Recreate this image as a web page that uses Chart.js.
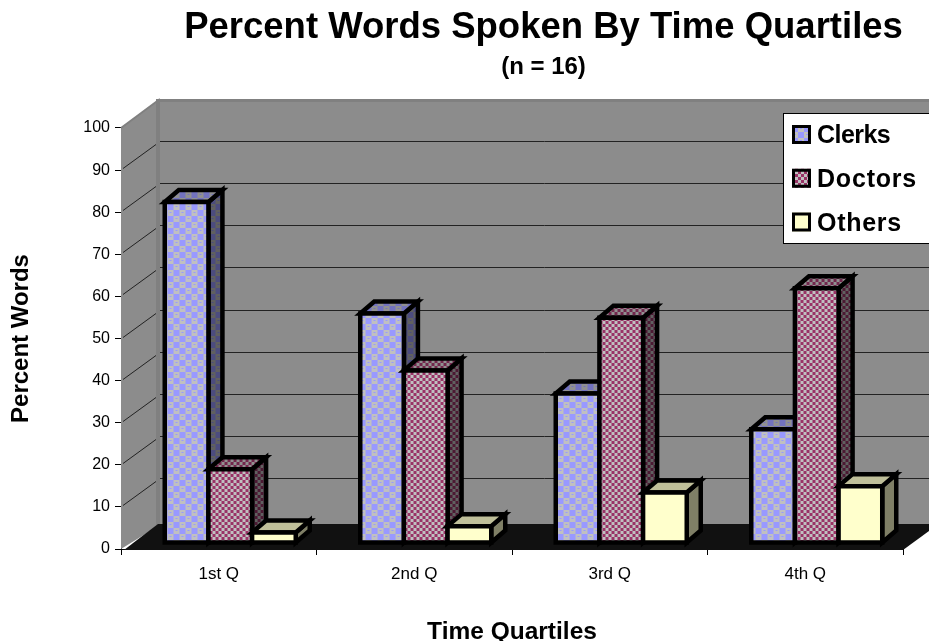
<!DOCTYPE html>
<html>
<head>
<meta charset="utf-8">
<title>Percent Words Spoken By Time Quartiles</title>
<style>
  html, body { margin: 0; padding: 0; background: #fff; }
  canvas { display: block; }
</style>
<script src="https://cdn.jsdelivr.net/npm/chart.js@4"></script>
</head>
<body>
<canvas id="quartiles" width="929" height="641"></canvas>
<script>
const quartiles = ['1st Q', '2nd Q', '3rd Q', '4th Q'];
const clerks = [81, 54.5, 35.5, 27];
const doctors = [17.5, 41, 53.5, 60.5];
const others = [2.5, 4, 12, 13.5];

const FONT = '"Liberation Sans", Arial, sans-serif';
const WALL = { dx: 39, dy: -29 };   // back wall offset from the axis plane
const SHIFT = { x: 11.5, y: -6 };   // bars stand part way back on the floor
const DEPTH = { x: 14, y: -12 };    // bar depth
const EDGE = 4.5;
const LEGEND_SPACING = [-0.55, 0.8, 0.7];

// checker tiles, darkened for the side and top faces
function tile(size, paint, dark) {
    const c = document.createElement('canvas');
    c.width = c.height = size;
    const g = c.getContext('2d');
    paint(g);
    if (dark) {
        g.fillStyle = 'rgba(0,0,0,' + dark + ')';
        g.fillRect(0, 0, size, size);
    }
    return g.createPattern(c, 'repeat');
}

function clerkPaint(g) {
    g.fillStyle = '#9999ff';
    g.fillRect(0, 0, 12, 12);
    g.fillStyle = '#c0c0c0';
    g.fillRect(0, 0, 6, 6);
    g.fillRect(6, 6, 6, 6);
    g.fillStyle = '#9999ff';
    g.fillRect(2, 2, 2, 1);
    g.fillRect(8, 8, 2, 1);
}

function doctorPaint(g) {
    g.fillStyle = '#993366';
    g.fillRect(0, 0, 6, 6);
    g.fillStyle = '#c0c0c0';
    g.fillRect(0, 0, 3, 3);
    g.fillRect(3, 3, 3, 3);
}

function otherPaint(g) {
    g.fillStyle = '#ffffcc';
    g.fillRect(0, 0, 4, 4);
}

const paints = [[clerkPaint, 12], [doctorPaint, 6], [otherPaint, 4]];
const fronts = paints.map(p => tile(p[1], p[0], 0));
const tops = paints.map(p => tile(p[1], p[0], 0.25));
const sides = paints.map(p => tile(p[1], p[0], 0.5));

function poly(ctx, pts, fill, stroke) {
    ctx.beginPath();
    pts.forEach((p, i) => i ? ctx.lineTo(p[0], p[1]) : ctx.moveTo(p[0], p[1]));
    ctx.closePath();
    if (fill) {
        ctx.fillStyle = fill;
        ctx.fill();
    }
    if (stroke) {
        ctx.strokeStyle = '#000';
        ctx.lineWidth = EDGE;
        ctx.lineJoin = 'miter';
        ctx.stroke();
    }
}

// wall, floor and gridlines behind the bars
const roomPlugin = {
    id: 'room',
    beforeDatasetsDraw(chart) {
        const ctx = chart.ctx;
        const y = chart.scales.y;
        const a = chart.chartArea;
        const W = chart.width;
        const bx = a.left + WALL.dx;
        const top = y.getPixelForValue(100);
        const zero = y.getPixelForValue(0);

        ctx.save();
        poly(ctx, [[a.left, top], [bx, top + WALL.dy], [bx, zero + WALL.dy + 5], [a.left, zero]], '#8c8c8c');
        ctx.fillStyle = '#8c8c8c';
        ctx.fillRect(bx, top + WALL.dy, W - bx, zero - top + 5);

        // darker rim along the wall edges
        ctx.fillStyle = '#808080';
        ctx.fillRect(bx - 4, top + WALL.dy, 4, zero - top + 5);
        ctx.fillRect(bx - 4, top + WALL.dy, W - bx + 4, 3);
        ctx.strokeStyle = '#808080';
        ctx.lineWidth = 2;
        ctx.beginPath();
        ctx.moveTo(a.left, top);
        ctx.lineTo(bx, top + WALL.dy);
        ctx.stroke();

        ctx.strokeStyle = '#222';
        ctx.lineWidth = 1;
        y.ticks.forEach(t => {
            if (t.value === 0 || t.value === 100) return;
            const py = Math.round(y.getPixelForValue(t.value)) + 0.5;
            ctx.beginPath();
            ctx.moveTo(a.left + 2, py - 2);
            ctx.lineTo(bx - 4, py + WALL.dy + 3);
            ctx.moveTo(bx, py + WALL.dy);
            ctx.lineTo(W, py + WALL.dy);
            ctx.stroke();
        });

        poly(ctx, [[a.left + 3, zero + 1], [bx - 2, zero + WALL.dy + 4], [W, zero + WALL.dy + 4],
            [W, zero - 18], [a.right, zero + 1]], '#111111');
        ctx.restore();
    }
};

// side and top faces are stroked per bar, each series painted over the previous one
const barsPlugin = {
    id: 'bars3d',
    beforeDatasetsDraw(chart) {
        const ctx = chart.ctx;
        ctx.save();
        ctx.translate(SHIFT.x, SHIFT.y);
        chart.data.datasets.forEach((ds, d) => {
            const meta = chart.getDatasetMeta(d);
            meta.data.forEach(bar => {
                const L = bar.x - bar.width / 2;
                const R = bar.x + bar.width / 2;
                const T = bar.y;
                const B = bar.base;
                poly(ctx, [[R, T], [R + DEPTH.x, T + DEPTH.y], [R + DEPTH.x, B + DEPTH.y], [R, B]], sides[d], true);
                poly(ctx, [[L, T], [L + DEPTH.x, T + DEPTH.y], [R + DEPTH.x, T + DEPTH.y], [R, T]], tops[d], true);
            });
            meta.controller.draw();
            meta.data.forEach(bar => {
                const L = bar.x - bar.width / 2;
                const R = bar.x + bar.width / 2;
                poly(ctx, [[L, bar.y], [R, bar.y], [R, bar.base], [L, bar.base]], null, true);
            });
        });
        ctx.restore();
        return false;
    }
};

const legendPlugin = {
    id: 'boxLegend',
    afterDraw(chart) {
        const ctx = chart.ctx;
        ctx.save();
        ctx.fillStyle = '#fff';
        ctx.strokeStyle = '#000';
        ctx.lineWidth = 1;
        ctx.fillRect(783.5, 113.5, 150, 130);
        ctx.strokeRect(783.5, 113.5, 150, 130);
        chart.data.datasets.forEach((ds, i) => {
            const cy = 134.5 + i * 43.75;
            ctx.fillStyle = fronts[i];
            ctx.fillRect(792, cy - 9.5, 19, 19);
            ctx.strokeStyle = '#000';
            ctx.lineWidth = 3;
            ctx.strokeRect(793.5, cy - 8, 16, 16);
            ctx.fillStyle = '#000';
            ctx.font = 'bold 25px ' + FONT;
            ctx.textBaseline = 'middle';
            ctx.textAlign = 'left';
            ctx.letterSpacing = LEGEND_SPACING[i] + 'px';
            ctx.fillText(ds.label, 817, cy + 2);
        });
        ctx.restore();
    }
};

// titles sit centred over the plot wall, not the whole canvas
const titleShift = {
    id: 'titleShift',
    afterLayout(chart) {
        chart.boxes.forEach(b => {
            if (b.position === 'top' && b.options && b.options.text) {
                b.left = 158;
                b.right = 929;
            }
        });
    }
};

function tickOptions(size) {
    return { color: '#000', font: { family: FONT, size: size } };
}

new Chart(document.getElementById('quartiles').getContext('2d'), {
    type: 'bar',
    data: {
        labels: quartiles,
        datasets: [
            { label: 'Clerks', data: clerks, backgroundColor: fronts[0] },
            { label: 'Doctors', data: doctors, backgroundColor: fronts[1] },
            { label: 'Others', data: others, backgroundColor: fronts[2] }
        ]
    },
    plugins: [titleShift, roomPlugin, barsPlugin, legendPlugin],
    options: {
        animation: false,
        responsive: false,
        layout: { padding: { right: 26 } },
        categoryPercentage: 0.67,
        barPercentage: 1,
        borderWidth: 0,
        scales: {
            x: {
                grid: { drawOnChartArea: false, tickLength: 6, color: '#000' },
                border: { color: '#000' },
                ticks: Object.assign({ padding: 9, maxRotation: 0 }, tickOptions(17)),
                title: {
                    display: true,
                    text: 'Time Quartiles',
                    color: '#000',
                    font: { family: FONT, size: 24.5, weight: 'bold' },
                    padding: { top: 10, bottom: -6 }
                },
                afterFit(s) { s.height = 92; }
            },
            y: {
                min: 0,
                max: 100,
                grid: { drawOnChartArea: false, tickLength: 6, color: '#000' },
                border: { color: '#000' },
                ticks: Object.assign({ stepSize: 10, padding: 5 }, tickOptions(16)),
                title: {
                    display: true,
                    text: 'Percent Words',
                    color: '#000',
                    font: { family: FONT, size: 24, weight: 'bold' },
                    padding: { top: 7, bottom: 0 }
                },
                afterFit(s) { s.width = 121; }
            }
        },
        plugins: {
            legend: { display: false },
            tooltip: { enabled: false },
            title: {
                display: true,
                text: 'Percent Words Spoken By Time Quartiles',
                color: '#000',
                font: { family: FONT, size: 36.5, weight: 'bold' },
                padding: { top: 6, bottom: 0 }
            },
            subtitle: {
                display: true,
                text: '(n = 16)',
                color: '#000',
                font: { family: FONT, size: 24, weight: 'bold' },
                padding: { top: 3, bottom: 46.4 }
            }
        }
    }
});
</script>
</body>
</html>
